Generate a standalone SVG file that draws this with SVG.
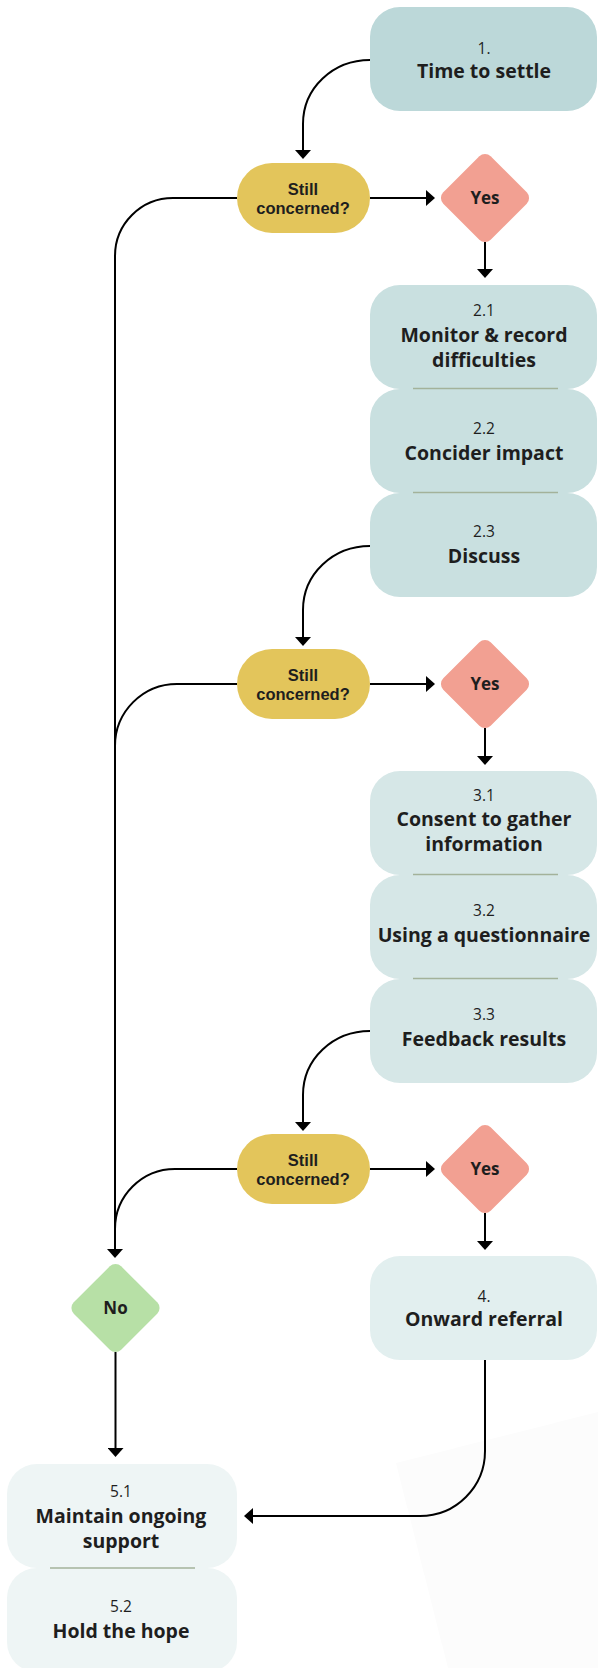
<svg xmlns="http://www.w3.org/2000/svg" width="598" height="1668" viewBox="0 0 598 1668">
<style>
.t{font-family:"Open Sans","Liberation Sans",sans-serif;fill:#1e1e1e;text-anchor:middle}
.n{font-size:15.5px;font-weight:400}
.b{font-size:19.5px;font-weight:700}
.p{font-family:"Liberation Sans",Arial,sans-serif;font-size:16.5px;font-weight:700}
.d{font-size:17px;font-weight:700}
.c1{fill:#bcd8d9}
.c2{fill:#c9e0e0}
.c3{fill:#d6e7e7}
.c4{fill:#e2efef}
.c5{fill:#eef5f5}
.pill{fill:#e3c55b}
.yes{fill:#f2a092}
.no{fill:#b7e0a6}
.sep{stroke:#a3b29a;stroke-width:1.5;fill:none}
.ln{stroke:#000;stroke-width:2;fill:none;marker-end:url(#ah)}
.ln0{stroke:#000;stroke-width:2;fill:none}
</style>
<defs>
<marker id="ah" viewBox="0 0 9 16" refX="0" refY="8" markerWidth="9" markerHeight="16" markerUnits="userSpaceOnUse" orient="auto">
<path d="M0,0 L9,8 L0,16 Z" fill="#000"/>
</marker>
</defs>
<polygon points="396,1463 598,1412 598,1668 448,1668" fill="#fcfcfc"/>

<g id="box1"><rect class="c1" x="370" y="7" width="227" height="104" rx="30"/>
<text class="t n" x="484" y="54">1.</text><text class="t b" x="484" y="78">Time to settle</text></g>

<g id="q1"><rect class="pill" x="237" y="163" width="133" height="70" rx="35"/>
<text class="t p" x="303" y="194.5">Still</text><text class="t p" x="303" y="214">concerned?</text></g>
<g id="yes1"><rect class="yes" x="451.5" y="164.5" width="67" height="67" rx="8" transform="rotate(45 485 198)"/>
<text class="t d" x="485" y="204">Yes</text></g>

<g id="box21"><rect class="c2" x="370" y="285" width="227" height="104" rx="30"/>
<text class="t n" x="484" y="316">2.1</text><text class="t b" x="484" y="342">Monitor &amp; record</text><text class="t b" x="484" y="367">difficulties</text></g>
<g id="box22"><rect class="c2" x="370" y="389" width="227" height="104" rx="30"/>
<text class="t n" x="484" y="434">2.2</text><text class="t b" x="484" y="460">Concider impact</text></g>
<g id="box23"><rect class="c2" x="370" y="493" width="227" height="104" rx="30"/>
<text class="t n" x="484" y="537">2.3</text><text class="t b" x="484" y="563">Discuss</text></g>
<g id="sep2"><line class="sep" x1="413" y1="388.5" x2="558" y2="388.5"/><line class="sep" x1="413" y1="492.5" x2="558" y2="492.5"/></g>

<g id="q2"><rect class="pill" x="237" y="649" width="133" height="70" rx="35"/>
<text class="t p" x="303" y="680.5">Still</text><text class="t p" x="303" y="700">concerned?</text></g>
<g id="yes2"><rect class="yes" x="451.5" y="650.5" width="67" height="67" rx="8" transform="rotate(45 485 684)"/>
<text class="t d" x="485" y="690">Yes</text></g>

<g id="box31"><rect class="c3" x="370" y="771" width="227" height="104" rx="30"/>
<text class="t n" x="484" y="801">3.1</text><text class="t b" x="484" y="826">Consent to gather</text><text class="t b" x="484" y="851">information</text></g>
<g id="box32"><rect class="c3" x="370" y="875" width="227" height="104" rx="30"/>
<text class="t n" x="484" y="916">3.2</text><text class="t b" x="484" y="942">Using a questionnaire</text></g>
<g id="box33"><rect class="c3" x="370" y="979" width="227" height="104" rx="30"/>
<text class="t n" x="484" y="1020">3.3</text><text class="t b" x="484" y="1046">Feedback results</text></g>
<g id="sep3"><line class="sep" x1="413" y1="874.5" x2="558" y2="874.5"/><line class="sep" x1="413" y1="978.5" x2="558" y2="978.5"/></g>

<g id="q3"><rect class="pill" x="237" y="1134" width="133" height="70" rx="35"/>
<text class="t p" x="303" y="1165.5">Still</text><text class="t p" x="303" y="1185">concerned?</text></g>
<g id="yes3"><rect class="yes" x="451.5" y="1135.5" width="67" height="67" rx="8" transform="rotate(45 485 1169)"/>
<text class="t d" x="485" y="1175">Yes</text></g>

<g id="box4"><rect class="c4" x="370" y="1256" width="227" height="104" rx="30"/>
<text class="t n" x="484" y="1302">4.</text><text class="t b" x="484" y="1326">Onward referral</text></g>

<g id="no"><rect class="no" x="82" y="1274.5" width="67" height="67" rx="8" transform="rotate(45 115.5 1308)"/>
<text class="t d" x="115.5" y="1314">No</text></g>

<g id="box51"><rect class="c5" x="7" y="1464" width="230" height="104" rx="30"/>
<text class="t n" x="121" y="1497">5.1</text><text class="t b" x="121" y="1523">Maintain ongoing</text><text class="t b" x="121" y="1548">support</text></g>
<g id="box52"><rect class="c5" x="7" y="1568" width="230" height="104" rx="30"/>
<text class="t n" x="121" y="1612">5.2</text><text class="t b" x="121" y="1638">Hold the hope</text></g>
<g id="sep5"><line class="sep" x1="50" y1="1568" x2="195" y2="1568"/></g>

<g id="connectors">
<path class="ln" d="M370,60 C333,60 303,88 303,124 V150"/>
<path class="ln" d="M370,198 H426"/>
<path class="ln" d="M485,242 V269"/>
<path class="ln" d="M237,198 H173 A58,58 0 0 0 115,256 V1249"/>
<path class="ln" d="M370,546 C333,546 303,574 303,610 V637"/>
<path class="ln" d="M370,684 H426"/>
<path class="ln" d="M485,728 V756"/>
<path class="ln0" d="M237,684 H177 A62,62 0 0 0 115,746"/>
<path class="ln" d="M370,1031 C333,1031 303,1059 303,1095 V1122"/>
<path class="ln" d="M370,1169 H426"/>
<path class="ln" d="M485,1213 V1241"/>
<path class="ln0" d="M237,1169 H175 A60,60 0 0 0 115,1229"/>
<path class="ln" d="M115.5,1352 V1448"/>
<path class="ln" d="M485,1360 V1451 A65,65 0 0 1 420,1516 H253"/>
</g>
</svg>
